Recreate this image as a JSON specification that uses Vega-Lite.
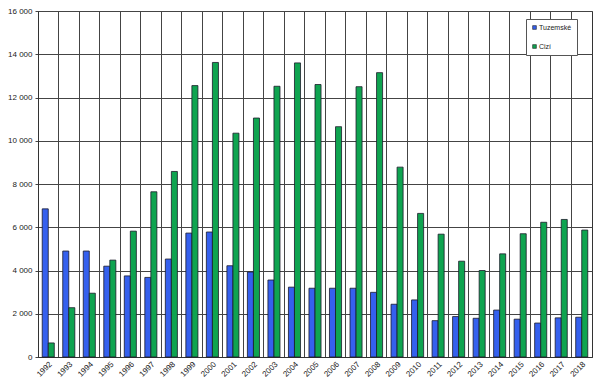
{
  "$schema": "https://vega.github.io/schema/vega-lite/v6.json",
  "width": 604,
  "height": 382,
  "autosize": {"type": "fit", "contains": "padding"},
  "padding": {"left": 7, "top": 7, "right": 12, "bottom": 3},
  "background": "white",
  "config": {
    "font": "Liberation Sans",
    "locale": {"number": {"decimal": ",", "thousands": " ", "grouping": [3], "currency": ["", ""]}},
    "view": {"stroke": "#333", "strokeWidth": 1}
  },
  "data": {
    "values": [
      {"rok": "1992", "serie": "Tuzemské", "pocet": 6850}, {"rok": "1992", "serie": "Cizí", "pocet": 650},
      {"rok": "1993", "serie": "Tuzemské", "pocet": 4900}, {"rok": "1993", "serie": "Cizí", "pocet": 2280},
      {"rok": "1994", "serie": "Tuzemské", "pocet": 4900}, {"rok": "1994", "serie": "Cizí", "pocet": 2950},
      {"rok": "1995", "serie": "Tuzemské", "pocet": 4200}, {"rok": "1995", "serie": "Cizí", "pocet": 4480},
      {"rok": "1996", "serie": "Tuzemské", "pocet": 3750}, {"rok": "1996", "serie": "Cizí", "pocet": 5820},
      {"rok": "1997", "serie": "Tuzemské", "pocet": 3680}, {"rok": "1997", "serie": "Cizí", "pocet": 7640},
      {"rok": "1998", "serie": "Tuzemské", "pocet": 4530}, {"rok": "1998", "serie": "Cizí", "pocet": 8580},
      {"rok": "1999", "serie": "Tuzemské", "pocet": 5730}, {"rok": "1999", "serie": "Cizí", "pocet": 12550},
      {"rok": "2000", "serie": "Tuzemské", "pocet": 5780}, {"rok": "2000", "serie": "Cizí", "pocet": 13620},
      {"rok": "2001", "serie": "Tuzemské", "pocet": 4220}, {"rok": "2001", "serie": "Cizí", "pocet": 10350},
      {"rok": "2002", "serie": "Tuzemské", "pocet": 3930}, {"rok": "2002", "serie": "Cizí", "pocet": 11050},
      {"rok": "2003", "serie": "Tuzemské", "pocet": 3560}, {"rok": "2003", "serie": "Cizí", "pocet": 12520},
      {"rok": "2004", "serie": "Tuzemské", "pocet": 3230}, {"rok": "2004", "serie": "Cizí", "pocet": 13600},
      {"rok": "2005", "serie": "Tuzemské", "pocet": 3180}, {"rok": "2005", "serie": "Cizí", "pocet": 12600},
      {"rok": "2006", "serie": "Tuzemské", "pocet": 3180}, {"rok": "2006", "serie": "Cizí", "pocet": 10650},
      {"rok": "2007", "serie": "Tuzemské", "pocet": 3180}, {"rok": "2007", "serie": "Cizí", "pocet": 12500},
      {"rok": "2008", "serie": "Tuzemské", "pocet": 2990}, {"rok": "2008", "serie": "Cizí", "pocet": 13150},
      {"rok": "2009", "serie": "Tuzemské", "pocet": 2440}, {"rok": "2009", "serie": "Cizí", "pocet": 8780},
      {"rok": "2010", "serie": "Tuzemské", "pocet": 2640}, {"rok": "2010", "serie": "Cizí", "pocet": 6640},
      {"rok": "2011", "serie": "Tuzemské", "pocet": 1680}, {"rok": "2011", "serie": "Cizí", "pocet": 5680},
      {"rok": "2012", "serie": "Tuzemské", "pocet": 1870}, {"rok": "2012", "serie": "Cizí", "pocet": 4430},
      {"rok": "2013", "serie": "Tuzemské", "pocet": 1790}, {"rok": "2013", "serie": "Cizí", "pocet": 4000},
      {"rok": "2014", "serie": "Tuzemské", "pocet": 2170}, {"rok": "2014", "serie": "Cizí", "pocet": 4770},
      {"rok": "2015", "serie": "Tuzemské", "pocet": 1750}, {"rok": "2015", "serie": "Cizí", "pocet": 5700},
      {"rok": "2016", "serie": "Tuzemské", "pocet": 1570}, {"rok": "2016", "serie": "Cizí", "pocet": 6230},
      {"rok": "2017", "serie": "Tuzemské", "pocet": 1810}, {"rok": "2017", "serie": "Cizí", "pocet": 6360},
      {"rok": "2018", "serie": "Tuzemské", "pocet": 1840}, {"rok": "2018", "serie": "Cizí", "pocet": 5870}
    ]
  },
  "mark": {"type": "bar", "stroke": "#1a1a2a", "strokeWidth": 0.8},
  "encoding": {
    "x": {
      "field": "rok", "type": "ordinal", "title": null,
      "scale": {"paddingInner": 0, "paddingOuter": 0},
      "axis": {
        "labelAngle": -45, "labelFontSize": 8, "labelColor": "#222",
        "grid": true, "bandPosition": 0, "gridColor": "#444", "gridOpacity": 1, "gridWidth": 1,
        "ticks": false, "domainColor": "#333", "labelPadding": 3
      }
    },
    "xOffset": {
      "field": "serie", "type": "nominal", "sort": ["Tuzemské", "Cizí"],
      "scale": {"paddingInner": 0, "paddingOuter": 0.7}
    },
    "y": {
      "field": "pocet", "type": "quantitative", "title": null,
      "scale": {"domain": [0, 16000], "nice": false},
      "axis": {
        "values": [0, 2000, 4000, 6000, 8000, 10000, 12000, 14000, 16000],
        "format": ",d", "labelFontSize": 8, "labelColor": "#222",
        "gridColor": "#444", "gridOpacity": 1, "gridWidth": 1,
        "tickColor": "#444", "tickSize": 3, "domainColor": "#333", "labelPadding": 3
      }
    },
    "color": {
      "field": "serie", "type": "nominal", "sort": ["Tuzemské", "Cizí"],
      "scale": {"domain": ["Tuzemské", "Cizí"], "range": ["#3560ee", "#0fa450"]},
      "legend": {
        "title": null, "orient": "none", "legendX": 488, "legendY": 8,
        "direction": "vertical",
        "fillColor": "white", "strokeColor": "#555", "padding": 5,
        "symbolType": "square", "symbolSize": 14, "symbolStrokeColor": "#222", "symbolStrokeWidth": 0.6,
        "labelFontSize": 7, "labelColor": "#222", "rowPadding": 11, "labelOffset": 1
      }
    }
  }
}
